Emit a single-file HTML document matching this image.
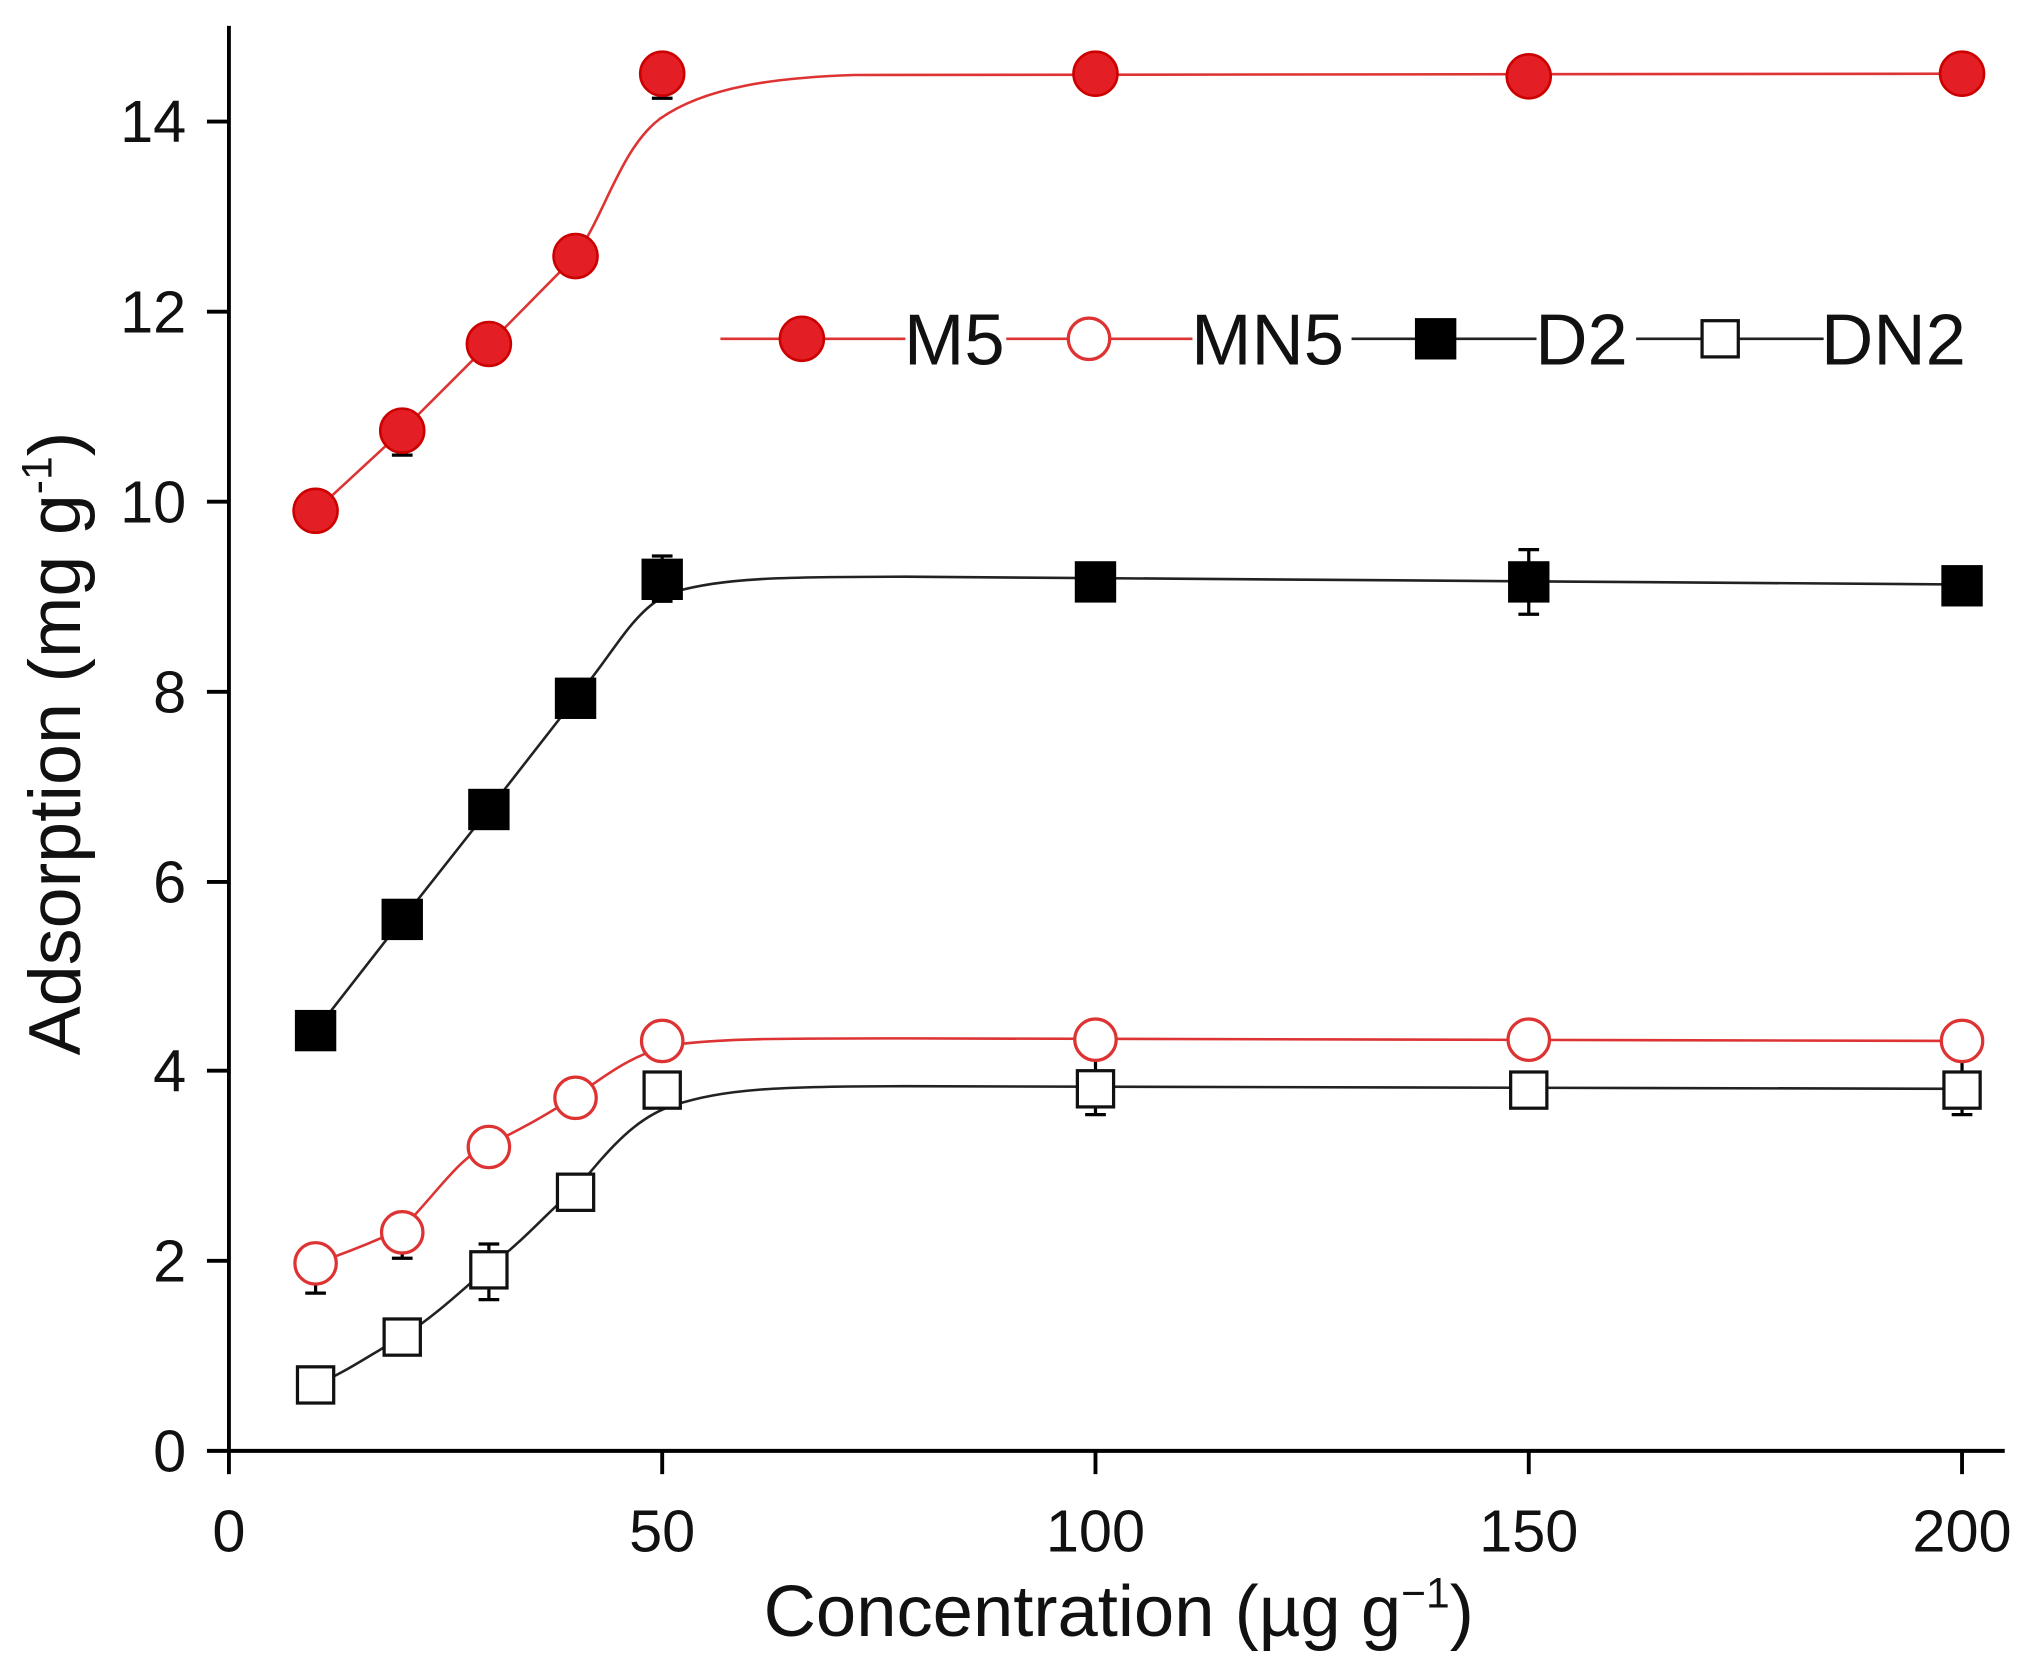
<!DOCTYPE html>
<html><head><meta charset="utf-8"><style>
html,body{margin:0;padding:0;background:#fff;}
svg{display:block;}
text{font-family:"Liberation Sans",Arial,sans-serif;fill:#111;}
</style></head><body>
<svg width="2028" height="1672" viewBox="0 0 1568 1293" preserveAspectRatio="none" xmlns="http://www.w3.org/2000/svg">
<rect width="1568" height="1293" fill="#fff"/>
<g stroke="#000" stroke-width="3" fill="none">
<line x1="177" y1="20" x2="177" y2="1122"/>
<line x1="177" y1="1122" x2="1550" y2="1122"/>
<line x1="160" y1="1122" x2="177" y2="1122"/>
<line x1="160" y1="975" x2="177" y2="975"/>
<line x1="160" y1="828" x2="177" y2="828"/>
<line x1="160" y1="682" x2="177" y2="682"/>
<line x1="160" y1="535" x2="177" y2="535"/>
<line x1="160" y1="388" x2="177" y2="388"/>
<line x1="160" y1="241" x2="177" y2="241"/>
<line x1="160" y1="94" x2="177" y2="94"/>
<line x1="177" y1="1122" x2="177" y2="1140"/>
<line x1="512" y1="1122" x2="512" y2="1140"/>
<line x1="847" y1="1122" x2="847" y2="1140"/>
<line x1="1182" y1="1122" x2="1182" y2="1140"/>
<line x1="1517" y1="1122" x2="1517" y2="1140"/>
</g>
<g font-size="46" text-anchor="end">
<text x="144" y="1138">0</text>
<text x="144" y="991">2</text>
<text x="144" y="844">4</text>
<text x="144" y="698">6</text>
<text x="144" y="551">8</text>
<text x="144" y="404">10</text>
<text x="144" y="257">12</text>
<text x="144" y="110">14</text>
</g>
<g font-size="46" text-anchor="middle">
<text x="177" y="1200">0</text>
<text x="512" y="1200">50</text>
<text x="847" y="1200">100</text>
<text x="1182" y="1200">150</text>
<text x="1517" y="1200">200</text>
</g>
<text x="865" y="1265" font-size="56" text-anchor="middle">Concentration (µg g<tspan dy="-22" font-size="33">−1</tspan><tspan dy="22">)</tspan></text>
<text transform="translate(62,575) rotate(-90)" font-size="57" text-anchor="middle">Adsorption (mg g<tspan dy="-22" font-size="33">-1</tspan><tspan dy="22">)</tspan></text>

<g fill="none" stroke-width="2">
<path stroke="#d33" d="M244,395 L311,333 L378,266 L445,198 C468,165 480,115 510,92 C545,67 600,60 660,58 L1517,57"/>
<path stroke="#222" d="M244,797 L311,711 L378,626 L445,540 C475,505 490,470 520,458 C560,447 600,446 700,446 L1517,452"/>
<path stroke="#d33" d="M244,977 C270,968 290,960 311,950 C340,920 355,895 378,885 C410,870 425,860 445,848 C470,830 490,815 520,808 C560,803 600,803 700,803 L1517,805"/>
<path stroke="#222" d="M244,1071 C270,1060 290,1045 311,1034 C340,1015 360,995 378,980 C410,955 425,935 445,920 C470,890 490,865 520,855 C560,842 600,840 700,840 L1517,842"/>
</g>
<g stroke="#000" stroke-width="2.5">
<line x1="311" y1="333" x2="311" y2="352"/><line x1="303" y1="352" x2="319" y2="352"/>
<line x1="512" y1="57" x2="512" y2="76"/><line x1="504" y1="76" x2="520" y2="76"/>
<line x1="512" y1="430" x2="512" y2="465"/><line x1="504" y1="430" x2="520" y2="430"/><line x1="504" y1="465" x2="520" y2="465"/>
<line x1="1182" y1="425" x2="1182" y2="475"/><line x1="1174" y1="425" x2="1190" y2="425"/><line x1="1174" y1="475" x2="1190" y2="475"/>
<line x1="244" y1="977" x2="244" y2="1000"/><line x1="236" y1="1000" x2="252" y2="1000"/>
<line x1="311" y1="953" x2="311" y2="973"/><line x1="303" y1="973" x2="319" y2="973"/>
<line x1="378" y1="962" x2="378" y2="1005"/><line x1="370" y1="962" x2="386" y2="962"/><line x1="370" y1="1005" x2="386" y2="1005"/>
<line x1="847" y1="820" x2="847" y2="862"/><line x1="839" y1="862" x2="855" y2="862"/>
<line x1="1517" y1="820" x2="1517" y2="862"/><line x1="1509" y1="862" x2="1525" y2="862"/>
<line x1="847" y1="788" x2="847" y2="805"/><line x1="1182" y1="788" x2="1182" y2="805"/>
</g>
<g fill="#e31e24" stroke="#c00" stroke-width="2">
<circle cx="244" cy="395" r="17"/><circle cx="311" cy="333" r="17"/><circle cx="378" cy="266" r="17"/><circle cx="445" cy="198" r="17"/>
<circle cx="512" cy="57" r="17"/><circle cx="847" cy="57" r="17"/><circle cx="1182" cy="59" r="17"/><circle cx="1517" cy="57" r="17"/>
</g>
<g fill="#000">
<rect x="228" y="781" width="32" height="32"/><rect x="295" y="695" width="32" height="32"/><rect x="362" y="610" width="32" height="32"/><rect x="429" y="524" width="32" height="32"/>
<rect x="496" y="432" width="32" height="32"/><rect x="831" y="434" width="32" height="32"/><rect x="1166" y="434" width="32" height="32"/><rect x="1501" y="437" width="32" height="32"/>
</g>
<g fill="#fff" stroke="#d33" stroke-width="2.5">
<circle cx="244" cy="977" r="16"/><circle cx="311" cy="953" r="16"/><circle cx="378" cy="887" r="16"/><circle cx="445" cy="849" r="16"/>
<circle cx="512" cy="805" r="16"/><circle cx="847" cy="804" r="16"/><circle cx="1182" cy="804" r="16"/><circle cx="1517" cy="805" r="16"/>
</g>
<g fill="#fff" stroke="#111" stroke-width="2.5">
<rect x="230" y="1057" width="28" height="28"/><rect x="297" y="1020" width="28" height="28"/><rect x="364" y="968" width="28" height="28"/><rect x="431" y="908" width="28" height="28"/>
<rect x="498" y="829" width="28" height="28"/><rect x="833" y="828" width="28" height="28"/><rect x="1168" y="829" width="28" height="28"/><rect x="1503" y="829" width="28" height="28"/>
</g>
<g stroke-width="2">
<line x1="557" y1="262" x2="700" y2="262" stroke="#d33"/>
<line x1="778" y1="262" x2="922" y2="262" stroke="#d33"/>
<line x1="1045" y1="262" x2="1188" y2="262" stroke="#222"/>
<line x1="1265" y1="262" x2="1410" y2="262" stroke="#222"/>
</g>
<circle cx="620" cy="262" r="17" fill="#e31e24" stroke="#c00" stroke-width="2"/>
<circle cx="842" cy="262" r="16" fill="#fff" stroke="#d33" stroke-width="2.5"/>
<rect x="1094" y="246" width="32" height="32" fill="#000"/>
<rect x="1316" y="248" width="28" height="28" fill="#fff" stroke="#111" stroke-width="2.5"/>
<g font-size="56">
<text x="699" y="282" fill="#111" style="paint-order:stroke" stroke="#fff" stroke-width="0">M5</text>
<text x="921" y="282">MN5</text>
<text x="1187" y="282">D2</text>
<text x="1408" y="282">DN2</text>
</g>
</svg>
</body></html>
